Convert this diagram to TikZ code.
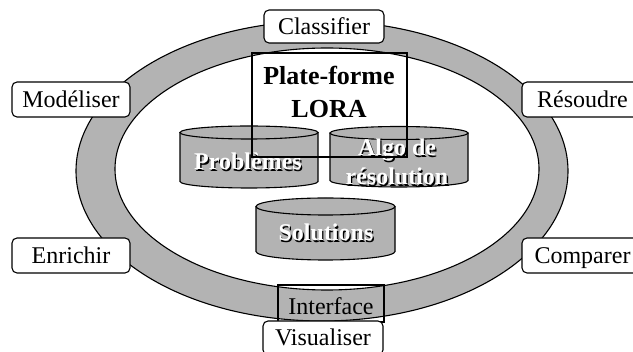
\documentclass[tikz,border=0pt]{standalone}
\usepackage{fontspec}
\setmainfont{Liberation Serif}
\definecolor{ringgray}{RGB}{179,179,179}
\tikzset{
  lbl/.style={draw, line width=1.1pt, rounded corners=5pt, fill=white,
    minimum width=118pt, minimum height=34pt, inner sep=0pt,
    font=\fontsize{24}{28}\selectfont, text height=16pt, text depth=0pt},
  plain/.style={draw, line width=1.1pt, inner sep=0pt},
  cyl/.style={draw, line width=1.1pt, fill=ringgray},
  cyltxt/.style={anchor=base, inner sep=0pt, font=\fontsize{24}{28}\selectfont\bfseries},
  reg/.style={anchor=base, inner sep=0pt, font=\fontsize{24}{28}\selectfont},
  big/.style={anchor=base, inner sep=0pt, font=\fontsize{26}{30}\selectfont\bfseries},
}
\newcommand\mycyl[5]{%
  \draw[cyl] ({#1-#2},#3) -- ({#1-#2},#4) arc[start angle=180, end angle=0, x radius=#2, y radius=#5] -- ({#1+#2},#3);
  \draw[cyl] (#1,#3) ellipse[x radius=#2, y radius=#5];
}
\newcommand\shtxt[4]{%
  \node[cyltxt, text=black, xshift=1.3pt, yshift=-1.3pt] at (#1,#2) {#4};
  \node[cyltxt, text=white] (#3) at (#1,#2) {#4};
}
\begin{document}
\begin{tikzpicture}[x=1pt, y=-1pt]
\useasboundingbox (0,0) rectangle (633,352);
\clip (0,0) rectangle (633,352);
% ring
\draw[line width=1.1pt, fill=ringgray] (322,171) ellipse[x radius=246, y radius=150];
\draw[line width=1.1pt, fill=white] (327,169) ellipse[x radius=212, y radius=121];
% cylinders
\mycyl{249}{69}{132.5}{181.5}{6.5}
\mycyl{399}{69}{133}{180.5}{6.5}
\mycyl{325.5}{69.5}{206.5}{251.5}{8.5}
\shtxt{248}{170}{prob}{Problèmes}
\shtxt{397}{156}{algo1}{Algo de}
\shtxt{397}{185}{algo2}{résolution}
\shtxt{326}{241}{sol}{Solutions}
% platform box
\node[plain, minimum width=155pt, minimum height=104pt] (plat) at (329.5,105) {};
\node[big] (platA) at (329,85) {Plate-forme};
\node[big] (platB) at (329,118) {LORA};
% interface
\node[plain, minimum width=106pt, minimum height=37pt] (intf) at (331,303.5) {};
\node[reg] (intfT) at (331,315) {Interface};
% labels
\node[lbl, minimum width=120pt, minimum height=33pt] (classifier) at (324,26.5) {Classifier};
\node[lbl, minimum height=35pt] (modeliser) at (71,99.5) {Modéliser};
\node[lbl, minimum height=35pt] (enrichir) at (71,255.5) {Enrichir};
\node[lbl, minimum width=121pt, minimum height=35pt] (resoudre) at (582.5,99.5) {Résoudre};
\node[lbl, minimum width=121pt, minimum height=35pt] (comparer) at (582.5,255.5) {Comparer};
\node[lbl, minimum width=120pt, minimum height=34pt] (visualiser) at (323,338) {Visualiser};
\end{tikzpicture}
\end{document}
